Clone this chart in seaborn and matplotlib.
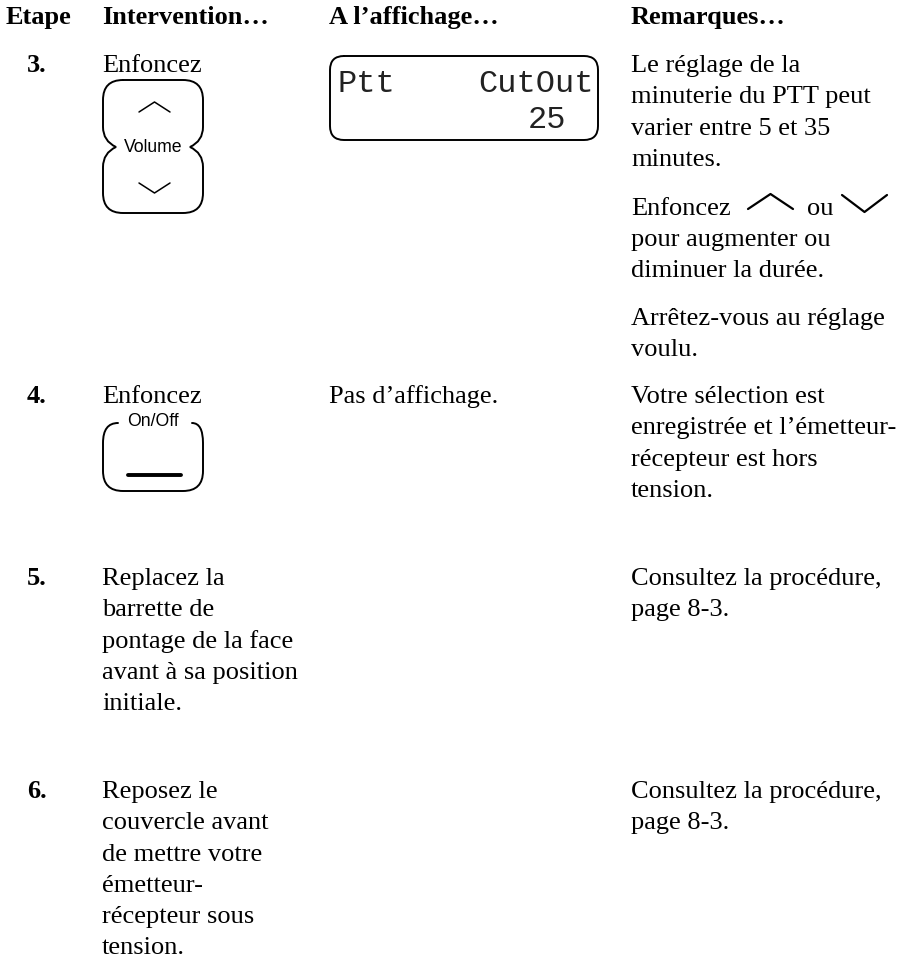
# tableau de procedure, page de manuel
import pandas as pd
import matplotlib
matplotlib.use('Agg')
import matplotlib.pyplot as plt
from matplotlib.path import Path
from matplotlib.patches import PathPatch
import seaborn as sns

headers = ['Etape', 'Intervention…', 'A l’affichage…', 'Remarques…']
steps = ['3.', '4.', '5.', '6.']
action_3 = ['Enfoncez']
action_4 = ['Enfoncez']
action_5 = ['Replacez la', 'barrette de', 'pontage de la face', 'avant à sa position', 'initiale.']
action_6 = ['Reposez le', 'couvercle avant', 'de mettre votre', 'émetteur-', 'récepteur sous', 'tension.']
display_4 = 'Pas d’affichage.'
remark_3a = ['Le réglage de la', 'minuterie du PTT peut', 'varier entre 5 et 35', 'minutes.']
remark_3b = ['pour augmenter ou', 'diminuer la durée.']
remark_3c = ['Arrêtez-vous au réglage', 'voulu.']
remark_4 = ['Votre sélection est', 'enregistrée et l’émetteur-', 'récepteur est hors', 'tension.']
remark_5 = ['Consultez la procédure,', 'page 8-3.']
remark_6 = ['Consultez la procédure,', 'page 8-3.']

SERIF = 'Liberation Serif'
SIZE = 19
STEP = 31.3

sns.set_theme(style='white', rc={'axes.linewidth': 0})
plt.rcParams['font.family'] = [SERIF, 'DejaVu Sans']

fig = plt.figure(figsize=(9.07, 9.58), dpi=100)
ax = fig.add_axes([0, 0, 1, 1])
ax.set_xlim(0, 907)
ax.set_ylim(958, 0)
ax.axis('off')


def lines(x, y, rows, **kw):
    for i, row in enumerate(rows):
        ax.text(x, y + i * STEP, row, fontsize=SIZE, va='baseline', color='black', **kw)


def chevron(x0, x1, y_end, y_tip, lw=1.1):
    d = pd.DataFrame({'x': [x0, (x0 + x1) / 2, x1], 'y': [y_end, y_tip, y_end]})
    sns.lineplot(data=d, x='x', y='y', sort=False, estimator=None, color='black', lw=lw, ax=ax)


def outline(verts, codes, lw=1.4):
    ax.add_patch(PathPatch(Path(verts, codes), fc='none', ec='black', lw=lw, capstyle='round'))


M, L, C = Path.MOVETO, Path.LINETO, Path.CURVE3

# entetes et numeros
for x, h in zip([6, 102, 329, 631], headers):
    ax.text(x, 24, h, fontsize=SIZE, fontweight='bold', va='baseline', color='black')
for y, s in zip([72, 403, 585, 798], steps):
    ax.text(27, y, s, fontsize=SIZE, fontweight='bold', va='baseline', color='black')

# colonne intervention
lines(102, 72, action_3)
lines(102, 403, action_4)
lines(102, 585, action_5)
lines(102, 798, action_6)

# bouton Volume
l, r, t, b, mid, rad = 103, 203, 80, 213, 147, 20
verts = [(l + rad, t), (r - rad, t), (r, t), (r, t + rad), (r, mid - 20), (r, mid - 6), (r - 13, mid),
         (r, mid + 6), (r, mid + 20), (r, b - rad), (r, b), (r - rad, b), (l + rad, b), (l, b), (l, b - rad),
         (l, mid + 20), (l, mid + 6), (l + 13, mid), (l, mid - 6), (l, mid - 20), (l, t + rad), (l, t), (l + rad, t)]
codes = [M, L, C, C, L, C, C, C, C, L, C, C, L, C, C, L, C, C, C, C, L, C, C]
outline(verts, codes)
chevron(139, 170, 112, 102)
chevron(139, 170, 183, 193)
ax.text(153, 147, 'Volume', family='Liberation Sans', fontsize=12.7, ha='center', va='center', color='black')

# bouton On/Off
t, b = 423, 491
verts = [(118, t), (l, t), (l, t + rad), (l, b - rad), (l, b), (l + rad, b), (r - rad, b), (r, b), (r, b - rad),
         (r, t + rad), (r, t), (192, t)]
codes = [M, C, C, L, C, C, L, C, C, L, C, C]
outline(verts, codes)
ax.text(153, 422, 'On/Off', family='Liberation Sans', fontsize=12.7, ha='center', va='center', color='black')
sns.lineplot(x=[128, 181], y=[475, 475], color='black', lw=2.8, ax=ax)

# afficheur
l, r, t, b = 330, 598, 56, 140
verts = [(l + 14, t), (r - 14, t), (r, t), (r, t + 14), (r, b - 14), (r, b), (r - 14, b), (l + 14, b), (l, b),
         (l, b - 14), (l, t + 14), (l, t), (l + 14, t)]
codes = [M, L, C, C, L, C, C, L, C, C, L, C, C]
outline(verts, codes)
for x, y, s in [(338, 92, 'Ptt'), (478, 92, 'CutOut'), (528, 128, '25')]:
    ax.text(x, y, s, family='Liberation Mono', fontsize=23, va='baseline', color='#222222')
lines(329, 403, [display_4])

# colonne remarques
lines(631, 72, remark_3a)
lines(631, 215, ['Enfoncez'])
ax.text(807, 215, 'ou', fontsize=SIZE, va='baseline', color='black')
chevron(748, 793, 209, 194, lw=1.6)
chevron(842, 887, 195, 212, lw=1.6)
lines(631, 246, remark_3b)
lines(631, 325, remark_3c)
lines(631, 403, remark_4)
lines(631, 585, remark_5)
lines(631, 798, remark_6)

ax.set_xlim(0, 907)
ax.set_ylim(958, 0)
ax.set_xlabel('')
ax.set_ylabel('')
fig.savefig('out.png', dpi=100, facecolor='white')
